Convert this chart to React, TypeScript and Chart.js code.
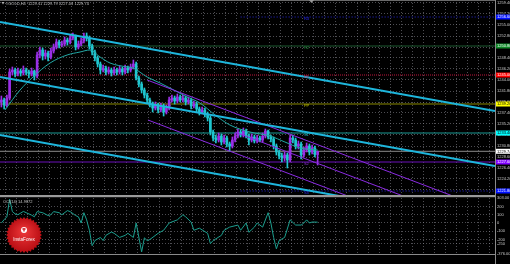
import React, { useEffect, useRef } from "react";
import { Chart, registerables } from "chart.js";

Chart.register(...registerables);

// ---------------- data ----------------
const opens = [
  1239.6, 1240.0, 1239.0, 1240.4, 1245.6, 1246.0, 1245.2, 1245.8, 1245.4, 1246.0,
  1245.6, 1245.2, 1245.8, 1244.8, 1249.0, 1250.0, 1248.8, 1249.4, 1248.6, 1249.8,
  1250.6, 1251.6, 1251.0, 1251.2, 1252.0, 1251.6, 1252.4, 1252.8, 1250.6, 1251.2,
  1251.8, 1252.8, 1252.4, 1250.8, 1249.6, 1248.4, 1247.2, 1246.0, 1246.4, 1245.6,
  1246.0, 1245.4, 1246.0, 1245.6, 1246.2, 1245.6, 1246.4, 1246.0, 1246.6, 1247.2,
  1244.4, 1243.2, 1242.0, 1241.0, 1240.0, 1239.2, 1238.4, 1239.0, 1238.0, 1238.8,
  1237.6, 1238.4, 1240.0, 1240.4, 1239.8, 1240.6, 1240.0, 1240.4, 1239.6, 1240.0,
  1238.8, 1239.2, 1238.2, 1237.6, 1238.0, 1237.2, 1236.4, 1233.6, 1232.4, 1232.0,
  1232.8, 1231.6, 1232.4, 1231.2, 1230.8, 1232.0, 1232.8, 1233.6, 1233.0, 1233.8,
  1232.8, 1232.0, 1232.6, 1231.8, 1232.4, 1232.0, 1232.8, 1233.8, 1232.6, 1232.2,
  1230.8, 1229.6, 1228.8, 1228.4, 1229.0, 1228.0, 1232.4, 1232.0, 1230.8, 1231.2,
  1229.0, 1230.0, 1230.8, 1229.6, 1230.4, 1229.1,
];
const highs = [
  1240.8, 1240.4, 1241.0, 1246.2, 1246.6, 1246.4, 1246.4, 1246.2, 1246.8, 1246.4,
  1246.0, 1246.4, 1246.0, 1249.6, 1250.6, 1250.4, 1250.0, 1249.8, 1250.4, 1251.2,
  1252.2, 1252.0, 1251.8, 1252.6, 1252.4, 1253.0, 1253.4, 1253.0, 1251.8, 1252.4,
  1253.4, 1253.4, 1252.8, 1251.2, 1250.0, 1248.8, 1247.6, 1247.0, 1246.8, 1246.6,
  1246.4, 1246.6, 1246.4, 1246.8, 1246.6, 1247.0, 1246.8, 1247.2, 1248.0, 1247.6,
  1244.8, 1243.6, 1242.4, 1241.4, 1240.4, 1239.6, 1239.6, 1239.4, 1239.4, 1239.2,
  1239.0, 1240.6, 1241.0, 1240.8, 1241.2, 1241.0, 1241.0, 1240.8, 1240.6, 1240.4,
  1239.8, 1239.6, 1238.6, 1238.6, 1238.4, 1237.6, 1236.8, 1234.0, 1233.0, 1233.4,
  1233.2, 1233.0, 1232.8, 1231.6, 1232.6, 1233.4, 1234.2, 1234.0, 1234.4, 1234.2,
  1233.2, 1233.2, 1233.0, 1233.0, 1232.8, 1233.4, 1234.2, 1234.0, 1233.0, 1232.6,
  1231.2, 1230.0, 1229.4, 1229.6, 1229.4, 1233.0, 1233.0, 1232.4, 1231.8, 1231.6,
  1230.6, 1231.4, 1231.2, 1231.0, 1230.8, 1229.8,
];
const lows = [
  1238.6, 1238.2, 1238.6, 1240.0, 1245.0, 1244.6, 1244.8, 1244.8, 1245.0, 1245.0,
  1244.4, 1244.8, 1244.0, 1244.4, 1248.4, 1248.0, 1248.2, 1247.8, 1248.2, 1249.4,
  1250.2, 1250.4, 1250.6, 1250.8, 1251.0, 1251.2, 1252.0, 1250.0, 1250.2, 1250.8,
  1251.4, 1251.8, 1250.2, 1249.0, 1247.8, 1246.6, 1245.2, 1245.6, 1245.0, 1245.2,
  1244.8, 1245.0, 1245.0, 1245.2, 1245.0, 1245.2, 1245.4, 1245.6, 1246.2, 1244.0,
  1242.6, 1241.4, 1240.4, 1239.4, 1238.6, 1237.6, 1238.0, 1237.4, 1237.6, 1236.8,
  1237.2, 1238.0, 1239.6, 1239.2, 1239.4, 1239.6, 1239.6, 1239.0, 1239.2, 1238.2,
  1238.4, 1237.6, 1237.0, 1237.2, 1236.6, 1235.8, 1233.0, 1231.8, 1231.4, 1231.6,
  1231.0, 1231.2, 1230.6, 1229.8, 1230.4, 1231.6, 1232.4, 1232.6, 1232.6, 1232.4,
  1231.0, 1231.6, 1231.4, 1231.4, 1231.6, 1231.6, 1232.4, 1232.2, 1231.6, 1230.2,
  1229.0, 1228.2, 1227.6, 1227.8, 1226.4, 1227.6, 1231.4, 1230.2, 1230.2, 1228.2,
  1228.6, 1229.6, 1229.0, 1229.2, 1228.6, 1227.0,
];
const closes = [
  1240.0, 1239.0, 1240.4, 1245.6, 1246.0, 1245.2, 1245.8, 1245.4, 1246.0, 1245.6,
  1245.2, 1245.8, 1244.8, 1249.0, 1250.0, 1248.8, 1249.4, 1248.6, 1249.8, 1250.6,
  1251.6, 1251.0, 1251.2, 1252.0, 1251.6, 1252.4, 1252.8, 1250.6, 1251.2, 1251.8,
  1252.8, 1252.4, 1250.8, 1249.6, 1248.4, 1247.2, 1246.0, 1246.4, 1245.6, 1246.0,
  1245.4, 1246.0, 1245.6, 1246.2, 1245.6, 1246.4, 1246.0, 1246.6, 1247.2, 1244.4,
  1243.2, 1242.0, 1241.0, 1240.0, 1239.2, 1238.4, 1239.0, 1238.0, 1238.8, 1237.6,
  1238.4, 1240.0, 1240.4, 1239.8, 1240.6, 1240.0, 1240.4, 1239.6, 1240.0, 1238.8,
  1239.2, 1238.2, 1237.6, 1238.0, 1237.2, 1236.4, 1233.6, 1232.4, 1232.0, 1232.8,
  1231.6, 1232.4, 1231.2, 1230.8, 1232.0, 1232.8, 1233.6, 1233.0, 1233.8, 1232.8,
  1232.0, 1232.6, 1231.8, 1232.4, 1232.0, 1232.8, 1233.8, 1232.6, 1232.2, 1230.8,
  1229.6, 1228.8, 1228.4, 1229.0, 1228.0, 1232.4, 1232.0, 1230.8, 1231.2, 1229.0,
  1230.0, 1230.8, 1229.6, 1230.4, 1229.1, 1229.7,
];

const maSlots = [1.3, 6.8, 11.5, 17.7, 23.9, 28.6, 32.2, 35.9, 39.5, 45.7, 47.9, 53, 57.7, 61.3, 66.8, 72.2, 77.7, 83.1, 90.4, 97.7, 103.1, 108.6, 115];
const maValues = [1238.0, 1242.0, 1244.6, 1247.4, 1249.0, 1249.6, 1250.0, 1248.6, 1247.4, 1246.6, 1246.4, 1244.6, 1243.4, 1242.4, 1240.8, 1239.4, 1237.0, 1235.0, 1233.6, 1232.8, 1231.6, 1230.4, 1230.0];

const cciSlots = [0, 1, 2, 3, 4, 5, 6, 8, 9, 11, 12, 13, 15, 17, 18, 19, 21, 22, 24, 25, 27, 28, 29, 30, 31, 32, 33, 34, 36, 37, 38, 40, 41, 43, 45, 46, 48, 49, 51, 52, 53, 54, 57, 59, 61, 64, 66, 67, 69, 70, 72, 75, 76, 77, 80, 81, 83, 86, 87, 89, 90, 92, 93, 95, 97, 98, 99, 100, 101, 103, 105, 107, 109, 110, 111, 112, 113, 115];
const cciValues = [0, 40, 75, 288, 138, 110, 100, 140, 125, 95, 75, 138, 125, 90, 100, 138, 125, 100, 150, 138, 90, 75, 0, 125, 38, -88, -275, -213, -175, -213, -150, -110, -125, -175, -150, -125, -175, 0, -350, -180, -213, -200, -125, -88, 0, 38, 100, 75, 12, -88, -63, -125, -250, -213, -150, -88, -50, -25, -88, 0, -113, -50, 0, -50, 125, 0, -175, -313, -213, -175, 38, -25, -25, 0, 38, 0, 12, 10];

// channel lines: [start slot, end slot], [start price, end price]
const cyanTopSlots = [-0.5, 179.5];
const cyanTopPrices = [1255.6, 1237.8];
const cyanMidSlots = [-0.5, 179.5];
const cyanMidPrices = [1244.6, 1226.8];
const cyanLowSlots = [-0.5, 179.5];
const cyanLowPrices = [1233.0, 1215.2];
const purpleUpSlots = [53.0, 179.5];
const purpleUpPrices = [1244.0, 1217.6];
const purpleMidSlots = [85.0, 179.5];
const purpleMidPrices = [1233.6, 1213.8];
const purpleLowSlots = [53.3, 179.5];
const purpleLowPrices = [1236.0, 1209.6];

// horizontal levels
const levelPrices = [1256.6, 1250.8, 1245.0, 1239.2, 1233.4, 1227.6, 1221.8];
const levelNames = ["R3", "R2", "R1", "PP", "S1", "S2", "S3"];
const levelStartSlots = [87, -0.5, -0.5, -0.5, -0.5, -0.5, 87];
const bidPrice = 1229.74;

const priceTicks = [1259.4, 1257.2, 1255.0, 1252.8, 1250.6, 1248.4, 1246.2, 1244.0, 1241.8, 1239.6, 1237.4, 1235.2, 1233.0, 1230.8, 1228.6, 1226.4, 1224.2, 1222.0];
const cciTicks = [303, 200, 100, 0, -100, -200, -250, -376];
const cciGridLevels = [200, 100, 0, -100, -200, -250];

const dateLabels = ["26 Oct 2023", "27 Oct 08:00", "30 Oct 16:00", "31 Oct 16:00", "1 Nov 16:00", "4 Nov 16:00", "7 Nov 00:00", "12 Nov 08:00", "14 Nov 16:00", "15 Nov 00:00", "18 Nov 16:00", "20 Nov 16:00", "25 Nov 08:00", "4 Dec 00:00", "6 Dec 16:00"];
const dateLabelSlots = [0, 8, 16, 24, 32, 40, 48, 56, 64, 72, 80, 88, 96, 104, 112];

const titleText = "#GOLD,H4  1229.11 1229.79 1227.03 1229.74";
const cciTitle = "CCI(14) 14.9872";

// ---------------- styles ----------------
const FONT = "'Liberation Sans', Arial, sans-serif";
const BG = "#000000";
const GRID = "rgba(140,140,150,0.55)";
const UP = "#9a2fe6";
const DOWN = "#1fc6d0";
const X_MIN = -0.5;
const X_MAX = 179.5;
const gridSlots = Array.from({ length: 45 }, (_, k) => 1.32 + 4 * k);

const levelLineColors = ["#2424d8", "#1d5a30", "#c0143c", "#8a8a00", "#1a9a94", "#6a10b8", "#2424d8"];
const levelDashes = [[1, 2], [], [1, 1], [], [], [], [1, 2]];
const levelBoxColors = ["#0010ff", "#0f8a28", "#ff0000", "#ffff00", "#00ffff", "#8000ff", "#0010ff"];
const levelBoxText = ["#ffffff", "#ffffff", "#ffffff", "#000000", "#000000", "#ffffff", "#ffffff"];
const levelTextColors = ["#3030ff", "#1f8a3a", "#d02050", "#c8c800", "#20d0d0", "#9030e0", "#3030ff"];

function seg(slots: number[], prices: number[]) {
  return slots.map((s, i) => ({ x: s, y: prices[i] }));
}

const xAxisBase = {
  type: "linear" as const,
  min: X_MIN,
  max: X_MAX,
  offset: false,
};

function gridAxis() {
  return {
    ...xAxisBase,
    position: "bottom" as const,
    display: true,
    grid: { display: true, color: GRID, lineWidth: 1, drawTicks: false, offset: false },
    border: { display: false, dash: [1, 2] },
    ticks: { display: false },
    afterBuildTicks: (s: any) => {
      s.ticks = gridSlots.map((v) => ({ value: v }));
    },
    afterFit: (s: any) => {
      s.height = 0;
      s.paddingLeft = 0;
      s.paddingRight = 0;
    },
  };
}

const mainDecor = {
  id: "mainDecor",
  beforeDraw(chart: any) {
    const { ctx, width, height } = chart;
    ctx.save();
    ctx.fillStyle = BG;
    ctx.fillRect(0, 0, width, height);
    ctx.restore();
  },
  afterDatasetsDraw(chart: any) {
    const { ctx } = chart;
    const xs = chart.scales.x;
    const ys = chart.scales.y;
    ctx.save();
    ctx.font = `4px ${FONT}`;
    ctx.textBaseline = "middle";
    ctx.textAlign = "left";
    levelPrices.forEach((p, k) => {
      ctx.fillStyle = levelTextColors[k];
      ctx.fillText(levelNames[k], xs.getPixelForValue(110), ys.getPixelForValue(p) + 1.5);
    });
    ctx.restore();
  },
  afterDraw(chart: any) {
    const { ctx, chartArea } = chart;
    const ys = chart.scales.y;
    ctx.save();
    // frame
    ctx.fillStyle = "#8a8a8a";
    ctx.fillRect(chartArea.right, 0, 1, chart.height);
    ctx.fillStyle = "#6a6a6a";
    ctx.fillRect(0, 0, chartArea.right, 1);
    ctx.fillStyle = "#9a9a9a";
    ctx.fillRect(0, chart.height - 1, chartArea.right, 1);
    // shift marker
    ctx.fillStyle = "#9a9a9a";
    ctx.beginPath();
    ctx.moveTo(309, 0);
    ctx.lineTo(314, 0);
    ctx.lineTo(311.5, 3);
    ctx.closePath();
    ctx.fill();
    // axis boxes
    ctx.font = `4px ${FONT}`;
    ctx.textBaseline = "middle";
    ctx.textAlign = "left";
    const boxes = levelPrices.map((p, k) => ({ p, bg: levelBoxColors[k], fg: levelBoxText[k] }));
    boxes.push({ p: bidPrice, bg: "#ffffff", fg: "#000000" });
    boxes.forEach((b) => {
      const py = ys.getPixelForValue(b.p);
      ctx.fillStyle = b.bg;
      ctx.fillRect(chartArea.right + 1, py - 2.5, 15, 5);
      ctx.fillStyle = b.fg;
      ctx.fillText(b.p.toFixed(2), chartArea.right + 2, py + 0.3);
    });
    // title
    ctx.fillStyle = "#b0b0b0";
    ctx.beginPath();
    ctx.moveTo(1.5, 2);
    ctx.lineTo(4.5, 2);
    ctx.lineTo(3, 4.5);
    ctx.closePath();
    ctx.fill();
    ctx.fillStyle = "#c0c0c0";
    ctx.font = `4px ${FONT}`;
    ctx.fillText(titleText, 6, 3.6);
    ctx.restore();
  },
};

const cciDecor = {
  id: "cciDecor",
  beforeDraw(chart: any) {
    const { ctx, width, height } = chart;
    ctx.save();
    ctx.fillStyle = BG;
    ctx.fillRect(0, 0, width, height);
    ctx.restore();
  },
  afterDraw(chart: any) {
    const { ctx, chartArea } = chart;
    ctx.save();
    ctx.fillStyle = "#9a9a9a";
    ctx.fillRect(0, 0, chartArea.right, 1.2);
    ctx.fillStyle = "#8a8a8a";
    ctx.fillRect(chartArea.right, 0, 1, chartArea.bottom + 10);
    // title
    ctx.fillStyle = "#c0c0c0";
    ctx.font = `4px ${FONT}`;
    ctx.textBaseline = "middle";
    ctx.textAlign = "left";
    ctx.fillText(cciTitle, 3, 5.5);
    // logo
    const cx = 24;
    const cy = 39;
    const R = 18;
    ctx.beginPath();
    const n = 64;
    for (let i = 0; i < n; i++) {
      const a = (i / n) * Math.PI * 2;
      const r = i % 2 === 0 ? R : R - 1.8;
      const px = cx + r * Math.cos(a);
      const py = cy + r * Math.sin(a);
      if (i === 0) ctx.moveTo(px, py);
      else ctx.lineTo(px, py);
    }
    ctx.closePath();
    const g = ctx.createRadialGradient(cx, cy - 4, 2, cx, cy, R);
    g.addColorStop(0, "#e83436");
    g.addColorStop(1, "#b80c12");
    ctx.fillStyle = g;
    ctx.fill();
    ctx.fillStyle = "#ffffff";
    ctx.beginPath();
    ctx.arc(cx, cy - 5, 3, 0, Math.PI * 2);
    ctx.fill();
    ctx.fillStyle = "#c81018";
    ctx.fillRect(cx - 0.6, cy - 7, 1.2, 3.5);
    ctx.fillRect(cx - 1.8, cy - 6.5, 3.6, 1);
    ctx.fillStyle = "#ffffff";
    ctx.font = `4.6px ${FONT}`;
    ctx.textAlign = "center";
    ctx.fillText("InstaForex", cx, cy + 5);
    ctx.restore();
  },
};

export default function App() {
  const mainRef = useRef<HTMLCanvasElement>(null);
  const cciRef = useRef<HTMLCanvasElement>(null);

  useEffect(() => {
    const charts: Chart[] = [];
    const candleColors = closes.map((c, i) => (c >= opens[i] ? UP : DOWN));

    const levelSets = levelPrices.map((p, k) => ({
      type: "line",
      data: [
        { x: levelStartSlots[k], y: p },
        { x: X_MAX, y: p },
      ],
      borderColor: levelLineColors[k],
      borderWidth: 1,
      borderDash: levelDashes[k],
      pointRadius: 0,
      order: 20,
    }));

    const lineSet = (data: any[], color: string, width: number, order: number, extra: any = {}) => ({
      type: "line",
      data,
      borderColor: color,
      borderWidth: width,
      pointRadius: 0,
      fill: false,
      order,
      ...extra,
    });

    if (mainRef.current) {
      charts.push(
        new Chart(mainRef.current, {
          type: "bar",
          data: {
            datasets: [
              ...levelSets,
              lineSet(
                [
                  { x: X_MIN, y: bidPrice },
                  { x: X_MAX, y: bidPrice },
                ],
                "#8a8a8a",
                1,
                19
              ),
              {
                type: "bar",
                data: closes.map((_, i) => ({ x: i, y: [lows[i], highs[i]] })),
                backgroundColor: candleColors,
                barThickness: 1,
                grouped: false,
                order: 9,
              },
              {
                type: "bar",
                data: closes.map((c, i) => ({ x: i, y: [opens[i], c] })),
                backgroundColor: candleColors,
                barThickness: 2,
                minBarLength: 1,
                grouped: false,
                order: 8,
              },
              lineSet(
                maSlots.map((s, i) => ({ x: s, y: maValues[i] })),
                "#22a9a6",
                1,
                6,
                { cubicInterpolationMode: "monotone" }
              ),
              lineSet(seg(purpleUpSlots, purpleUpPrices), "#8a2be2", 1, 4),
              lineSet(seg(purpleMidSlots, purpleMidPrices), "#8a2be2", 1, 4),
              lineSet(seg(purpleLowSlots, purpleLowPrices), "#8a2be2", 1, 4),
              lineSet(seg(cyanTopSlots, cyanTopPrices), "#1eb6dc", 2, 2),
              lineSet(seg(cyanMidSlots, cyanMidPrices), "#1eb6dc", 2, 2),
              lineSet(seg(cyanLowSlots, cyanLowPrices), "#1eb6dc", 2, 2),
            ] as any,
          },
          options: {
            responsive: false,
            animation: false,
            devicePixelRatio: 1,
            events: [],
            layout: { padding: 0 },
            plugins: { legend: { display: false }, tooltip: { enabled: false } },
            scales: {
              x: {
                ...xAxisBase,
                display: true,
                grid: { display: false },
                border: { display: false },
                ticks: { display: false },
                afterFit: (s: any) => {
                  s.height = 0;
                  s.paddingLeft = 0;
                  s.paddingRight = 0;
                },
              },
              xg: gridAxis(),
              y: {
                type: "linear",
                position: "right",
                min: 1220.8,
                max: 1260,
                grid: { color: GRID, drawTicks: false },
                border: { display: false, dash: [1, 2] },
                ticks: {
                  color: "#c8c8c8",
                  font: { size: 4, family: FONT },
                  padding: 2,
                  callback: (v: any) => Number(v).toFixed(2),
                },
                afterBuildTicks: (s: any) => {
                  s.ticks = priceTicks.map((v) => ({ value: v }));
                },
                afterFit: (s: any) => {
                  s.width = 15;
                  s.paddingTop = 0;
                  s.paddingBottom = 0;
                },
              },
            } as any,
          },
          plugins: [mainDecor],
        } as any)
      );
    }

    if (cciRef.current) {
      charts.push(
        new Chart(cciRef.current, {
          type: "line",
          data: {
            datasets: [
              lineSet(
                cciSlots.map((s, i) => ({ x: s, y: cciValues[i] })),
                "#1c9e8e",
                1,
                1
              ),
            ] as any,
          },
          options: {
            responsive: false,
            animation: false,
            devicePixelRatio: 1,
            events: [],
            layout: { padding: { top: 2, left: 0, right: 0, bottom: 0 } },
            plugins: { legend: { display: false }, tooltip: { enabled: false } },
            scales: {
              x: {
                ...xAxisBase,
                position: "bottom",
                display: true,
                grid: { display: false },
                border: { display: true, color: "#8a8a8a" },
                ticks: {
                  color: "#c8c8c8",
                  font: { size: 4, family: FONT },
                  padding: 3,
                  autoSkip: false,
                  maxRotation: 0,
                  minRotation: 0,
                  align: "start",
                  callback: (_v: any, i: number) => dateLabels[i] ?? "",
                },
                afterBuildTicks: (s: any) => {
                  s.ticks = dateLabelSlots.map((v) => ({ value: v }));
                },
                afterFit: (s: any) => {
                  s.height = 10;
                  s.paddingLeft = 0;
                  s.paddingRight = 0;
                },
              },
              xg: gridAxis(),
              y: {
                type: "linear",
                position: "right",
                min: -376,
                max: 303,
                grid: {
                  drawTicks: false,
                  color: (c: any) =>
                    c.tick && cciGridLevels.includes(c.tick.value) ? GRID : "rgba(0,0,0,0)",
                },
                border: { display: false, dash: [1, 2] },
                ticks: {
                  color: "#c8c8c8",
                  font: { size: 4, family: FONT },
                  padding: 2,
                  callback: (v: any) =>
                    cciGridLevels.includes(Number(v)) ? String(v) : Number(v).toFixed(2),
                },
                afterBuildTicks: (s: any) => {
                  s.ticks = cciTicks.map((v) => ({ value: v }));
                },
                afterFit: (s: any) => {
                  s.width = 15;
                  s.paddingTop = 0;
                  s.paddingBottom = 0;
                },
              },
            } as any,
          },
          plugins: [cciDecor],
        } as any)
      );
    }

    return () => charts.forEach((c) => c.destroy());
  }, []);

  return (
    <div style={{ position: "absolute", left: 0, top: 0, width: 510, height: 264, background: BG, overflow: "hidden" }}>
      <canvas ref={mainRef} width={510} height={196} style={{ position: "absolute", left: 0, top: 0, width: 510, height: 196 }} />
      <canvas ref={cciRef} width={510} height={68} style={{ position: "absolute", left: 0, top: 196, width: 510, height: 68 }} />
    </div>
  );
}
